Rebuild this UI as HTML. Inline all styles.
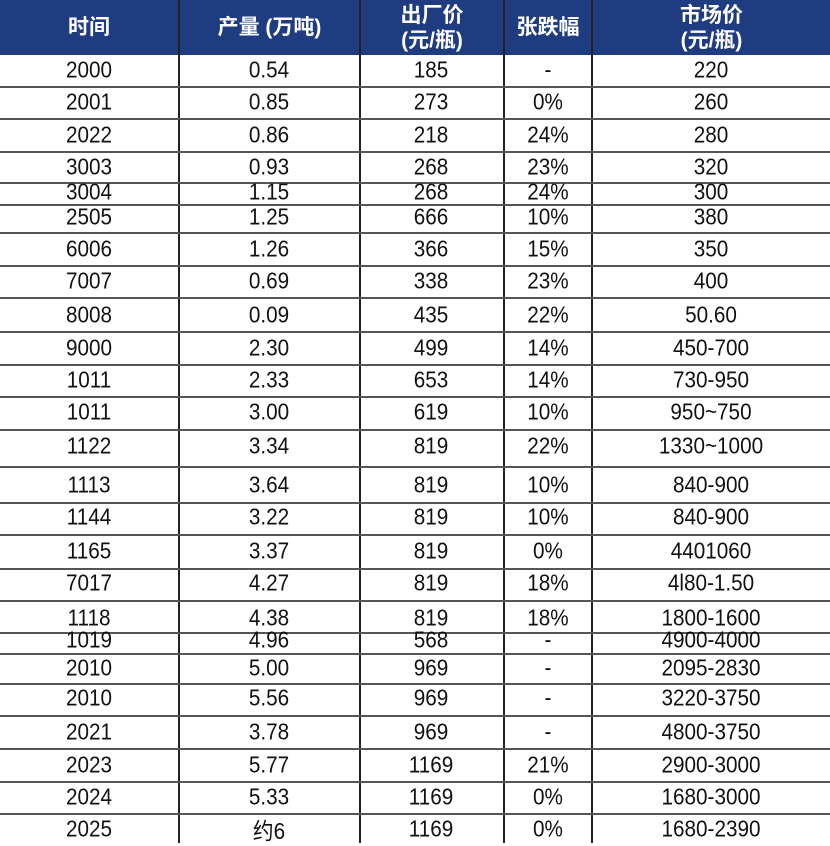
<!DOCTYPE html>
<html><head><meta charset="utf-8"><style>
body{margin:0;width:830px;height:843px;background:#fff;position:relative;overflow:hidden;font-family:"Liberation Sans","Noto Sans CJK SC",sans-serif}
.h{position:absolute;left:0;top:0;width:830px;height:55px;background:#1f3c80}
.hc{position:absolute;top:0;height:55px;display:flex;align-items:center;justify-content:center;text-align:center;color:#fff;font-weight:bold;font-size:21px;line-height:25px}
.vl{position:absolute;top:0;height:843px;width:2px;background:#222}
.hl{position:absolute;left:0;width:830px;height:2px;background:#555}
.c{position:absolute;transform:translate(-50%,-50%) scaleX(0.9);font-size:23px;color:#111;white-space:nowrap}
</style></head><body>
<div class="h"></div>
<div class="hc" style="left:0;width:178px">时间</div>
<div class="hc" style="left:180px;width:179px">产量 (万吨)</div>
<div class="hc" style="left:361px;width:142px">出厂价<br>(元/瓶)</div>
<div class="hc" style="left:505px;width:86px">张跌幅</div>
<div class="hc" style="left:593px;width:237px">市场价<br>(元/瓶)</div>
<div class="vl" style="left:178px"></div>
<div class="vl" style="left:359px"></div>
<div class="vl" style="left:503px"></div>
<div class="vl" style="left:591px"></div>
<div id="t"></div>
<script>
var rows=[
[70,"2000","0.54","185","-","220"],
[102,"2001","0.85","273","0%","260"],
[135,"2022","0.86","218","24%","280"],
[167,"3003","0.93","268","23%","320"],
[192,"3004","1.15","268","24%","300"],
[217,"2505","1.25","666","10%","380"],
[249,"6006","1.26","366","15%","350"],
[281,"7007","0.69","338","23%","400"],
[315,"8008","0.09","435","22%","50.60"],
[348,"9000","2.30","499","14%","450-700"],
[380,"1011","2.33","653","14%","730-950"],
[412,"1011","3.00","619","10%","950~750"],
[446,"1122","3.34","819","22%","1330~1000"],
[485,"1113","3.64","819","10%","840-900"],
[517,"1144","3.22","819","10%","840-900"],
[551,"1165","3.37","819","0%","4401060"],
[583,"7017","4.27","819","18%","4l80-1.50"],
[618,"1118","4.38","819","18%","1800-1600"],
[640,"1019","4.96","568","-","4900-4000"],
[668,"2010","5.00","969","-","2095-2830"],
[698,"2010","5.56","969","-","3220-3750"],
[732,"2021","3.78","969","-","4800-3750"],
[765,"2023","5.77","1169","21%","2900-3000"],
[797,"2024","5.33","1169","0%","1680-3000"],
[829,"2025","约6","1169","0%","1680-2390"]];
var lines=[86,118,151,182,204,232,265,297,331,364,396,429,466,502,534,568,600,632,653,683,715,748,781,813];
var xs=[89,269,431,548,711],h="";
lines.forEach(function(y){h+='<div class="hl" style="top:'+y+'px"></div>';});
rows.forEach(function(r){for(var i=0;i<5;i++)h+='<div class="c" style="left:'+xs[i]+'px;top:'+r[0]+'px">'+r[i+1]+'</div>';});
document.getElementById("t").innerHTML=h;
</script>
</body></html>
